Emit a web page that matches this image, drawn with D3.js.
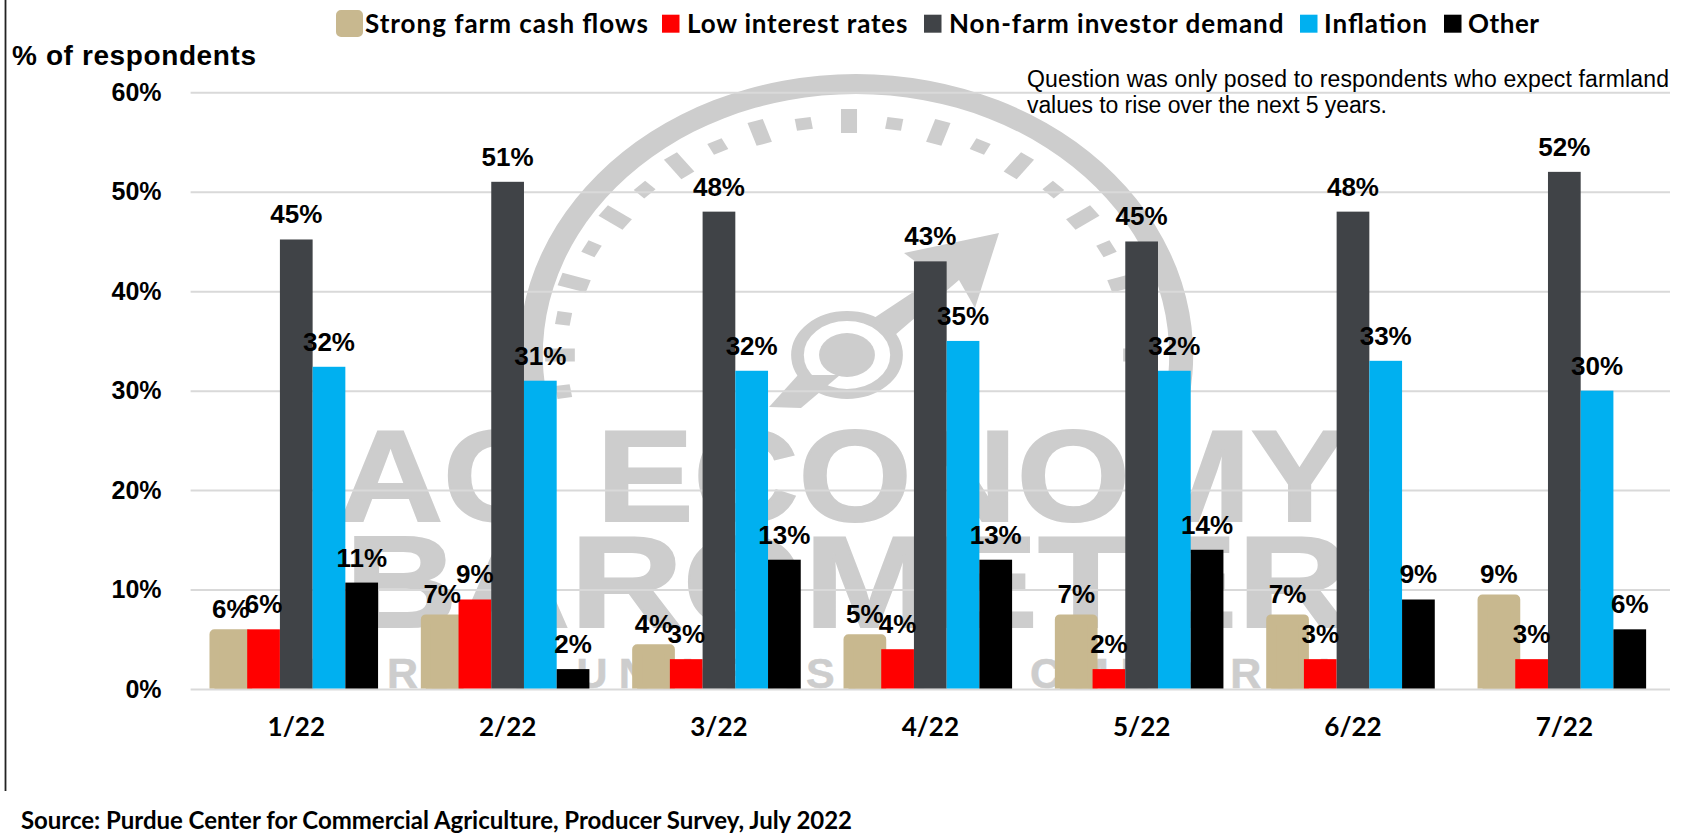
<!DOCTYPE html>
<html><head><meta charset="utf-8">
<script src="https://cdn.jsdelivr.net/npm/d3@7"></script>
<style>
html,body{margin:0;padding:0;background:#fff;overflow:hidden}
svg{display:block}
</style></head><body><svg id="c" width="1684" height="836"></svg>
<script>
const months = ["1/22","2/22","3/22","4/22","5/22","6/22","7/22"];
const seriesNames = ["Strong farm cash flows","Low interest rates","Non-farm investor demand","Inflation","Other"];
const strongFarmCashFlows = [5.5,7,4,5,7,7,9];
const lowInterestRates = [6,9,3,4,2,3,3];
const nonFarmInvestorDemand = [45.2,51,48,43,45,48,52];
const inflation = [32.4,31,32,35,32,33,30];
const other = [10.7,2,13,13,14,9,6];
const seriesValues = [strongFarmCashFlows,lowInterestRates,nonFarmInvestorDemand,inflation,other];
const seriesColors = ["#c8b88f","#ff0000","#404347","#00b0f0","#000000"];
const yTicks = [0,10,20,30,40,50,60];
const yTitle = "% of respondents";
const noteLines = ["Question was only posed to respondents who expect farmland","values to rise over the next 5 years."];
const sourceText = "Source: Purdue Center for Commercial Agriculture, Producer Survey, July 2022";
const watermarkLines = ["AG ECONOMY","BAROMETER","PURDUE UNIVERSITY","CME GROUP"];

const svg = d3.select("#c");
const SANS = "'Liberation Sans',Arial,sans-serif", CAL = "Lato,'Noto Sans',sans-serif";
const plot = {l:190.6, r:1670, t:92.3, b:689};
const x0 = d3.scaleBand().domain(months).range([plot.l,plot.r]);
const x1 = d3.scaleBand().domain(seriesNames).range([0,x0.bandwidth()]).paddingOuter(0.73);
const y = d3.scaleLinear().domain([0,60]).range([plot.b,plot.t]);

// left frame rule
svg.append("line").attr("x1",5.5).attr("x2",5.5).attr("y1",0).attr("y2",791).attr("stroke","#222").attr("stroke-width",1.8);

// watermark
const wm = svg.append("g").attr("fill","#cdcdcd");
const ring = wm.append("g").attr("transform","translate(856,355) scale(1.2,1)");
ring.append("path").attr("d",d3.arc()({innerRadius:261,outerRadius:281,startAngle:-100*Math.PI/180,endAngle:100*Math.PI/180}));
const dial = wm.append("g").attr("transform","translate(849,355) scale(1.235,1)");
d3.range(-99,100,9).forEach(a=>{
  const big = a%18===0;
  dial.append("rect").attr("x",-6.5).attr("width",13)
    .attr("y",big?-246:-240).attr("height",big?24:12)
    .attr("transform",`rotate(${a})`);
});
const hub = wm.append("g").attr("transform","translate(847,355) scale(1.27,1)");
hub.append("circle").attr("r",39).attr("fill","none").attr("stroke","#cdcdcd").attr("stroke-width",10);
hub.append("circle").attr("r",22);
wm.append("path").attr("d","M874,318L936,277L904,253L999,233L975,308L959,280L895,335Z");
wm.append("path").attr("d","M798,375L769,407L801,408L840,375Z");
const wmText = (t,xa,xb,base,size)=>wm.append("text").text(t)
  .attr("x",xa).attr("y",base).attr("font-family",SANS).attr("font-weight",700).attr("font-size",size)
  .attr("textLength",xb-xa).attr("lengthAdjust",size>100?"spacingAndGlyphs":"spacing")
  .attr("stroke","#cdcdcd").attr("stroke-width",size>100?2:0.5);
wmText(watermarkLines[0],338,1348,521,130);
wmText(watermarkLines[1],345,1350,627,130);
wmText(watermarkLines[2],305,935,688,43);
wmText(watermarkLines[3],1030,1390,688,43);

// axes
const yAxis = d3.axisLeft(y).tickValues(yTicks).tickFormat(d=>d+"%").tickSize(plot.l-plot.r).tickPadding(29);
const gy = svg.append("g").attr("transform",`translate(${plot.l},0)`).call(yAxis);
gy.select(".domain").remove();
gy.selectAll(".tick line").attr("stroke","#d9d9d9").attr("stroke-width",2);
gy.selectAll("text").attr("font-family",SANS).attr("font-weight",700).attr("font-size",25).attr("fill","#000");
const xAxis = d3.axisBottom(x0).tickSize(0).tickPadding(0);
const gx = svg.append("g").attr("transform",`translate(0,${plot.b})`).call(xAxis);
gx.select(".domain").remove();
gx.selectAll("text").attr("y",47).attr("dy",0).attr("font-family",CAL).attr("font-weight",700).attr("font-size",26).attr("fill","#000");

// bars
svg.append("clipPath").attr("id","above").append("rect").attr("x",0).attr("y",0).attr("width",1684).attr("height",plot.b-0.5);
const barLayer = svg.append("g").attr("clip-path","url(#above)");
const series = barLayer.selectAll("g").data(seriesNames).join("g").attr("fill",(d,i)=>seriesColors[i]);
series.selectAll("rect").data((d,i)=>seriesValues[i].map((v,j)=>({v,m:months[j],s:d,i}))).join("rect")
  .attr("x",d=>x0(d.m)+x1(d.s)).attr("width",x1.bandwidth())
  .attr("y",d=>y(d.v)).attr("height",d=>plot.b-y(d.v))
  .attr("stroke",d=>d.i===0?seriesColors[0]:"none")
  .attr("stroke-width",d=>d.i===0?10:0).attr("stroke-linejoin","round");

// data labels
seriesNames.forEach((s,i)=>{
  svg.append("g").selectAll("text").data(seriesValues[i].map((v,j)=>({v,m:months[j]}))).join("text")
    .attr("x",d=>x0(d.m)+x1(s)+x1.bandwidth()/2).attr("y",d=>y(d.v)-16)
    .attr("text-anchor","middle").attr("font-family",SANS).attr("font-weight",700).attr("font-size",26).attr("fill","#000")
    .text(d=>Math.round(d.v)+"%");
});

// legend
const legendSwatchX = [341,662,924,1300,1444];
const legendTextX = [[365,648],[687,907.5],[949,1283.5],[1324,1427],[1468,1539]];
seriesNames.forEach((s,i)=>{
  const g = svg.append("g");
  g.append("rect").attr("x",legendSwatchX[i]).attr("y",i?14.7:15).attr("width",i?17.5:17).attr("height",i?18:17)
    .attr("fill",seriesColors[i]).attr("stroke",i?"none":seriesColors[i]).attr("stroke-width",i?0:10).attr("stroke-linejoin","round");
  g.append("text").text(s).attr("x",legendTextX[i][0]).attr("y",33)
    .attr("textLength",legendTextX[i][1]-legendTextX[i][0])
    .attr("font-family",CAL).attr("font-weight",700).attr("font-size",26).attr("fill","#000");
});

svg.append("text").text(yTitle).attr("x",12).attr("y",65).attr("textLength",244)
  .attr("font-family",SANS).attr("font-weight",700).attr("font-size",28).attr("fill","#000");
svg.append("text").text(noteLines[0]).attr("x",1027).attr("y",87).attr("textLength",642)
  .attr("font-family",SANS).attr("font-size",23).attr("fill","#000");
svg.append("text").text(noteLines[1]).attr("x",1027).attr("y",113).attr("textLength",360)
  .attr("font-family",SANS).attr("font-size",23).attr("fill","#000");
svg.append("text").text(sourceText).attr("x",21).attr("y",829).attr("textLength",831)
  .attr("font-family",CAL).attr("font-weight",700).attr("font-size",24).attr("fill","#000");
</script></body></html>
